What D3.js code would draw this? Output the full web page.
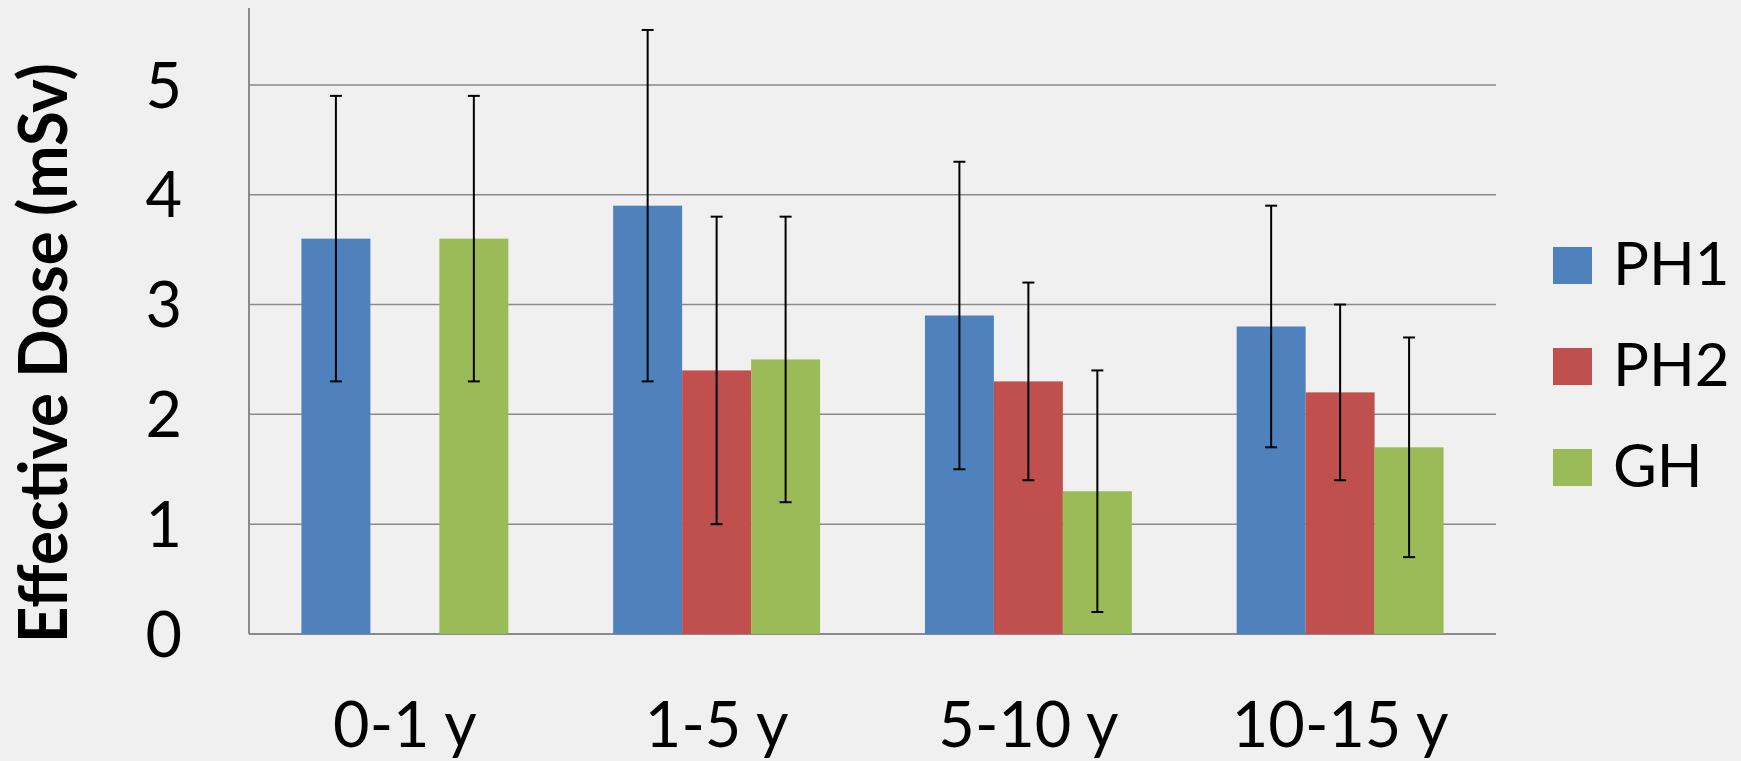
<!DOCTYPE html>
<html>
<head>
<meta charset="utf-8">
<script src="https://cdn.jsdelivr.net/npm/d3@7"></script>
<style>
  html, body { margin: 0; padding: 0; background: #f0f0f0; }
  svg { display: block; }
  text { font-family: Lato, "Open Sans", sans-serif; fill: #000; }
</style>
</head>
<body>
<svg id="chart" width="1741" height="761"></svg>
<script>
// ---- data ----
const categories = ["0-1 y", "1-5 y", "5-10 y", "10-15 y"];
const seriesNames = ["PH1", "PH2", "GH"];
const seriesColors = ["#4f81bd", "#c0504d", "#9bbb59"];
const valuesPH1 = [3.6, 3.9, 2.9, 2.8];
const valuesPH2 = [null, 2.4, 2.3, 2.2];
const valuesGH  = [3.6, 2.5, 1.3, 1.7];
const errPH1 = [1.3, 1.6, 1.4, 1.1];
const errPH2 = [null, 1.4, 0.9, 0.8];
const errGH  = [1.3, 1.3, 1.1, 1.0];
const yTicks = [0, 1, 2, 3, 4, 5];
const yTitle = "Effective Dose (mSv)";

const seriesValues = [valuesPH1, valuesPH2, valuesGH];
const seriesErrors = [errPH1, errPH2, errGH];

// ---- layout ----
const svg = d3.select("#chart");
const plotLeft = 249, plotRight = 1496, plotTop = 8, plotBottom = 634;

const x = d3.scaleBand().domain(categories).range([plotLeft, plotRight]).paddingInner(0).paddingOuter(0);
const xs = d3.scaleBand().domain(seriesNames).range([0, x.bandwidth()]).paddingInner(0).paddingOuter(0.76);
const y = d3.scaleLinear().domain([0, 5.7]).range([plotBottom, plotTop]);

// gridlines
svg.append("g").selectAll("line").data(yTicks.filter(d => d > 0)).join("line")
  .attr("x1", plotLeft).attr("x2", plotRight)
  .attr("y1", d => y(d)).attr("y2", d => y(d))
  .attr("stroke", "#8a8a8a").attr("stroke-width", 1.5);

// y axis line + baseline
svg.append("line").attr("x1", plotLeft).attr("x2", plotLeft).attr("y1", plotTop).attr("y2", y(0))
  .attr("stroke", "#8a8a8a").attr("stroke-width", 2);
svg.append("line").attr("x1", plotLeft).attr("x2", plotRight).attr("y1", y(0)).attr("y2", y(0))
  .attr("stroke", "#8a8a8a").attr("stroke-width", 2);

// y tick labels
svg.append("g").selectAll("text").data(yTicks).join("text")
  .attr("x", 182).attr("y", d => y(d)).attr("dy", "0.36em")
  .attr("text-anchor", "end").attr("font-size", 63)
  .text(d => d);

// bars
const barData = [];
seriesNames.forEach((s, si) => {
  categories.forEach((c, ci) => {
    const v = seriesValues[si][ci];
    if (v != null) barData.push({ s, si, c, v, e: seriesErrors[si][ci] });
  });
});

svg.append("g").selectAll("rect").data(barData).join("rect")
  .attr("x", d => x(d.c) + xs(d.s))
  .attr("width", xs.bandwidth())
  .attr("y", d => y(d.v))
  .attr("height", d => y(0) - y(d.v))
  .attr("fill", d => seriesColors[d.si]);

// error bars
const eg = svg.append("g").attr("stroke", "#000").attr("stroke-width", 2);
const cap = 6;
barData.forEach(d => {
  const cx = x(d.c) + xs(d.s) + xs.bandwidth() / 2;
  const y1 = y(d.v + d.e), y2 = y(d.v - d.e);
  eg.append("line").attr("x1", cx).attr("x2", cx).attr("y1", y1).attr("y2", y2);
  eg.append("line").attr("x1", cx - cap).attr("x2", cx + cap).attr("y1", y1).attr("y2", y1);
  eg.append("line").attr("x1", cx - cap).attr("x2", cx + cap).attr("y1", y2).attr("y2", y2);
});

// category labels
svg.append("g").selectAll("text").data(categories).join("text")
  .attr("x", d => x(d) + x.bandwidth() / 2)
  .attr("y", 747)
  .attr("text-anchor", "middle").attr("font-size", 63)
  .text(d => d);

// y title
svg.append("text")
  .attr("transform", "translate(67,353) rotate(-90)")
  .attr("text-anchor", "middle")
  .attr("font-size", 66).attr("font-weight", "bold")
  .attr("textLength", 580).attr("lengthAdjust", "spacingAndGlyphs")
  .text(yTitle);

// legend
const lg = svg.append("g").selectAll("g").data(seriesNames).join("g")
  .attr("transform", (d, i) => `translate(1553, ${247 + i * 101})`);
lg.append("rect").attr("width", 39).attr("height", 37).attr("fill", (d, i) => seriesColors[i]);
lg.append("text").attr("x", 60).attr("y", 38).attr("font-size", 60).text(d => d);
</script>
</body>
</html>
